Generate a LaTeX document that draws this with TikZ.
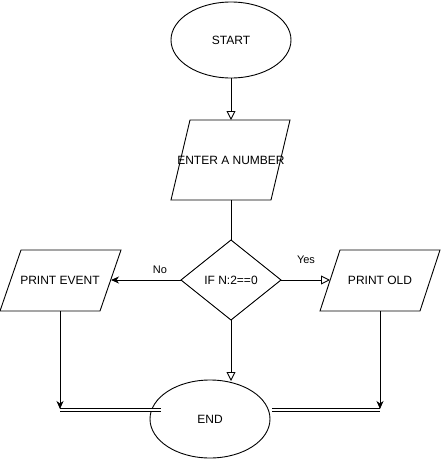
\documentclass[tikz,border=0pt]{standalone}
\usepackage{fontspec}
\setmainfont{Liberation Sans}
\usetikzlibrary{shapes.geometric,arrows.meta}
\begin{document}
\begin{tikzpicture}[x=1pt,y=-1pt,
  line width=0.9pt,
  lbl/.style={font=\fontsize{12}{14}\selectfont, inner sep=0pt},
  small/.style={font=\fontsize{11}{13}\selectfont, inner sep=0pt},
  openarr/.style={-{Triangle[open,length=9pt,width=9pt]}},
  fillarr/.style={-{Stealth[length=8pt,width=7pt,inset=2.5pt]}},
  dbl/.style={double, double distance=2.5pt, line width=0.8pt}]
\useasboundingbox (0,0) rectangle (441,461);
% shapes
\draw (231,40) ellipse [x radius=60, y radius=38];
\node[lbl] (start) at (231,40) {START};
\coordinate (startb) at (231,78);
\draw (190,120) -- (290,120) -- (271,200) -- (171,200) -- cycle;
\node[lbl] (enter) at (231,160) {ENTER A NUMBER};
\coordinate (entert) at (231,120);
\coordinate (enterb) at (231,200);
\draw (231,240) -- (281,280) -- (231,320) -- (181,280) -- cycle;
\node[lbl] (cond) at (231,280) {IF N:2==0};
\coordinate (condt) at (231,240);
\coordinate (condb) at (231,320);
\coordinate (condl) at (181,280);
\coordinate (condr) at (281,280);
\draw (21,250) -- (121,250) -- (100,311) -- (0,311) -- cycle;
\node[lbl] (pe) at (60,280) {PRINT EVENT};
\coordinate (per) at (111,280);
\coordinate (peb) at (60,311);
\draw (340,250) -- (440,250) -- (420,311) -- (320,311) -- cycle;
\node[lbl] (po) at (380,280) {PRINT OLD};
\coordinate (pol) at (330,280);
\coordinate (pob) at (380,311);
\draw (210,419) ellipse [x radius=60, y radius=39];
\node[lbl] (endn) at (210,419) {END};
\coordinate (endt) at (231,381);
% connectors
\draw[openarr] (startb) -- (entert);
\draw (enterb) -- (condt);
\draw[fillarr] (condl) -- (per);
\draw[openarr] (condr) -- (pol);
\draw[openarr] (condb) -- (endt);
\coordinate (lc) at (60,410);
\coordinate (rc) at (380,410);
\draw[fillarr] (peb) -- (60,409);
\draw[fillarr] (pob) -- (380,409);
\coordinate (le) at (161,410);
\coordinate (re) at (272,410);
\draw[dbl] (lc) -- (le);
\draw[dbl] (re) -- (rc);
\node[small] (no) at (160,270) {No};
\node[small] (yes) at (306,260) {Yes};
\end{tikzpicture}
\end{document}
